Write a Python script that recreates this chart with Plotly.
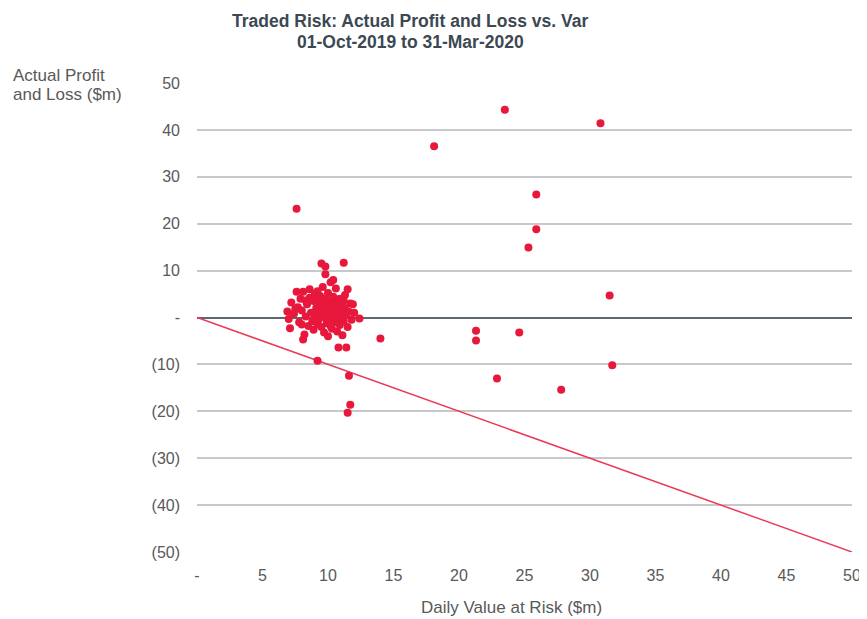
import plotly.graph_objects as go

# Outlier points (VaR, P&L)
out_x = [7.6, 18.1, 23.5, 30.8, 25.9, 25.9, 25.3, 31.5, 31.7, 27.8, 22.9, 21.3, 21.3, 24.6, 14.0, 11.6, 11.7, 11.5, 9.2]
out_y = [23.2, 36.5, 44.3, 41.4, 26.2, 18.8, 14.9, 4.7, -10.2, -15.4, -13.0, -2.8, -4.9, -3.2, -4.5, -12.4, -18.6, -20.3, -9.2]

# Dense cluster of daily observations
clu_x = [6.9, 7.0, 7.1, 7.2, 7.4, 7.6, 7.7, 7.8, 7.9, 8.0,
         8.1, 8.1, 8.2, 8.3, 8.4, 8.5, 8.6, 8.6, 8.7, 8.8,
         8.9, 8.9, 9.0, 9.0, 9.1, 9.2, 9.2, 9.3, 9.3, 9.4,
         9.4, 9.5, 9.5, 9.6, 9.6, 9.7, 9.7, 9.8, 9.8, 9.9,
         9.9, 10.0, 10.0, 10.0, 10.1, 10.1, 10.2, 10.2, 10.3, 10.3,
         10.4, 10.4, 10.5, 10.5, 10.6, 10.6, 10.7, 10.7, 10.8, 10.8,
         10.9, 10.9, 11.0, 11.0, 11.1, 11.1, 11.2, 11.2, 11.3, 11.4,
         11.4, 11.5, 11.5, 11.6, 11.7, 11.8, 11.9, 12.0, 12.4, 9.5,
         11.2, 9.8, 9.8, 10.4, 8.3, 9.0, 10.2, 10.6, 9.6, 10.8,
         7.5, 8.0, 11.3, 9.2, 10.0, 10.9]
clu_y = [1.3, -0.3, -2.3, 3.2, 0.8, 5.5, 2.2, -1.0, 4.0, 1.5,
         5.5, -4.7, -3.6, 0.2, 2.8, -1.8, 6.0, 4.2, 1.0, -0.8,
         3.5, -2.6, 5.0, 0.5, 2.0, -1.5, 3.8, 1.2, -0.4, 4.6,
         2.5, -2.0, 0.8, 3.0, 6.5, -3.2, 1.8, 0.0, 4.0, 2.2,
         -1.2, 5.2, 1.0, -4.0, 3.4, -0.6, 2.0, 7.5, 0.4, -2.4,
         4.4, 1.6, -1.0, 3.0, 6.2, 0.2, -3.0, 2.4, -6.4, 1.0,
         4.0, -1.6, 2.8, 0.0, -3.8, 1.5, 3.6, -0.8, 2.0, -6.4,
         0.6, 6.0, -2.0, 1.2, 3.0, -0.5, 2.8, 1.0, -0.2, 11.5,
         11.7, 10.9, 9.2, 8.0, 3.6, -0.2, -1.8, 2.8, 0.4, -0.2,
         1.8, -1.5, 4.8, 5.6, 2.6, 3.2]

# Reference line: P&L = -VaR
line_x = [0, 50]
line_y = [0, -50]

x_ticks = [0, 5, 10, 15, 20, 25, 30, 35, 40, 45, 50]
x_labels = ["-", "5", "10", "15", "20", "25", "30", "35", "40", "45", "50"]
y_ticks = [50, 40, 30, 20, 10, 0, -10, -20, -30, -40, -50]
y_labels = ["50", "40", "30", "20", "10", "-", "(10)", "(20)", "(30)", "(40)", "(50)"]

title_lines = ["Traded Risk: Actual Profit and Loss vs. Var", "01-Oct-2019 to 31-Mar-2020"]
ytitle_lines = ["Actual Profit", "and Loss ($m)"]
xtitle = "Daily Value at Risk ($m)"

RED = "#e8173c"
GREY = "#595959"
FONT = "Liberation Sans, Arial, sans-serif"

# figure geometry (page has an 8px body margin)
W, H = 859, 611
L, T = 189, 75
PW, PH = 655, 469
R, B = W - L - PW, H - T - PH


def xp(px):
    return (px - L) / PW


def yp(py):
    return (T + PH - py) / PH


fig = go.Figure()
fig.add_trace(go.Scatter(x=line_x, y=line_y, mode="lines",
                         line=dict(color="#ea3a55", width=1.5), hoverinfo="skip"))
fig.add_trace(go.Scatter(x=clu_x + out_x, y=clu_y + out_y, mode="markers",
                         marker=dict(color=RED, size=8, line=dict(width=0))))

fig.update_layout(
    width=W, height=H,
    margin=dict(l=L, r=R, t=T, b=B, autoexpand=False),
    paper_bgcolor="white", plot_bgcolor="white",
    showlegend=False,
    font=dict(family=FONT, size=16, color=GREY),
    xaxis=dict(range=[0, 50], tickvals=x_ticks, ticktext=x_labels, showgrid=False,
               zeroline=False, showline=False, ticks="", ticklabelstandoff=12,
               ticklabeloverflow="allow",
               automargin=False, tickfont=dict(size=16, color=GREY)),
    yaxis=dict(range=[-50, 50], tickvals=y_ticks, ticktext=y_labels, showgrid=True,
               gridcolor="#c8c8c8", gridwidth=1.5, zeroline=True, zerolinecolor="#5d6870",
               zerolinewidth=1.5, showline=False, ticks="", ticklabelstandoff=16,
               ticklabeloverflow="allow",
               automargin=False, tickfont=dict(size=16, color=GREY)),
)

# Chart title (two lines)
for txt, cy in zip(title_lines, [13, 34]):
    fig.add_annotation(text="<b>" + txt + "</b>", xref="paper", yref="paper",
                       x=xp(402), y=yp(cy), xanchor="center", yanchor="middle",
                       showarrow=False, font=dict(size=17.5, color="#3c4852", family=FONT))

# Y axis title (two lines, top-left)
for txt, cy in zip(ytitle_lines, [67, 86]):
    fig.add_annotation(text=txt, xref="paper", yref="paper",
                       x=xp(3), y=yp(cy), xanchor="left", yanchor="middle",
                       showarrow=False, align="left", font=dict(size=17, color=GREY))

# X axis title
fig.add_annotation(text=xtitle, xref="paper", yref="paper",
                   x=xp(503.5), y=yp(599), xanchor="center", yanchor="middle",
                   showarrow=False, font=dict(size=17, color=GREY))

fig.write_html("out.html")
